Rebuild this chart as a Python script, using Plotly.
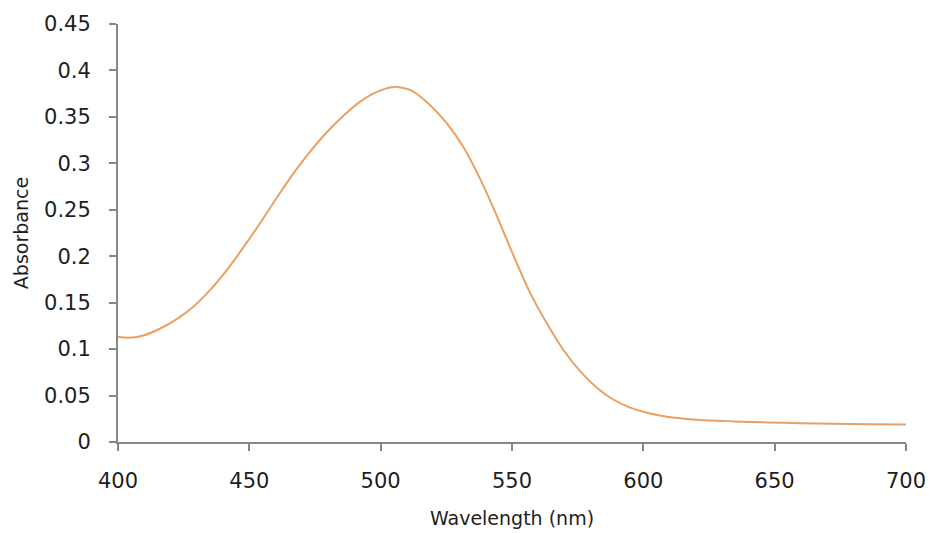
import plotly.graph_objects as go

wavelength = [400, 404.7, 410.0, 416.1, 422.5, 428.8, 435.2, 441.5, 447.8, 454.2, 460.5, 466.8,
              473.2, 479.5, 485.9, 492.2, 498.6, 504.9, 511.2, 517.6, 525.2, 531.6, 537.9,
              544.3, 550.6, 556.9, 563.3, 569.6, 576.0, 582.3, 588.7, 595.0, 601.4, 609,
              614.0, 621.7, 635, 647, 660, 672.4, 686, 700]
absorbance = [0.113, 0.1122, 0.1150, 0.1222, 0.1325, 0.1460, 0.1640, 0.1853, 0.2098, 0.2360,
              0.2632, 0.2892, 0.3130, 0.3335, 0.3515, 0.3665, 0.3770, 0.3823, 0.3790, 0.3658,
              0.3430, 0.3170, 0.2830, 0.2430, 0.2005, 0.1605, 0.1275, 0.0990, 0.0760, 0.0585,
              0.0455, 0.0370, 0.0315, 0.0272, 0.0256, 0.0236, 0.0222, 0.0211, 0.0203, 0.0197,
              0.0192, 0.0189]

x_ticks = [400, 450, 500, 550, 600, 650, 700]
y_ticks = [0, 0.05, 0.1, 0.15, 0.2, 0.25, 0.3, 0.35, 0.4, 0.45]
y_labels = ["0", "0.05", "0.1", "0.15", "0.2", "0.25", "0.3", "0.35", "0.4", "0.45"]

fig = go.Figure()
fig.add_trace(go.Scatter(
    x=wavelength, y=absorbance, mode="lines",
    line=dict(color="#E9A062", width=2, shape="spline", smoothing=0.7),
    showlegend=False, cliponaxis=False,
))

axis_color = "#878787"
text_color = "#1e1e1e"
font_family = "DejaVu Sans, sans-serif"

# page body has an 8px margin, so the figure is sized to fit inside the window
fig.update_layout(
    width=926, height=525,
    margin=dict(l=110, r=28, t=16, b=91),
    paper_bgcolor="white", plot_bgcolor="white",
    font=dict(family=font_family, color=text_color),
)
fig.update_xaxes(
    range=[400, 700], tickvals=x_ticks, ticktext=[str(v) for v in x_ticks],
    automargin=False,
    showgrid=False, zeroline=False, showline=True, linecolor=axis_color, linewidth=2,
    ticks="outside", ticklen=7, tickwidth=2, tickcolor=axis_color,
    ticklabelstandoff=12,
    tickfont=dict(size=21, color=text_color),
    title=dict(text="Wavelength (nm)", font=dict(size=19, color=text_color), standoff=19),
)
fig.update_yaxes(
    range=[0, 0.45], tickvals=y_ticks, ticktext=y_labels,
    automargin=False,
    showgrid=False, zeroline=False, showline=True, linecolor=axis_color, linewidth=2,
    ticks="outside", ticklen=7, tickwidth=2, tickcolor=axis_color,
    ticklabelstandoff=14,
    tickfont=dict(size=21, color=text_color),
    title=dict(text="Absorbance", font=dict(size=19, color=text_color), standoff=10),
)

fig.write_html("out.html")
